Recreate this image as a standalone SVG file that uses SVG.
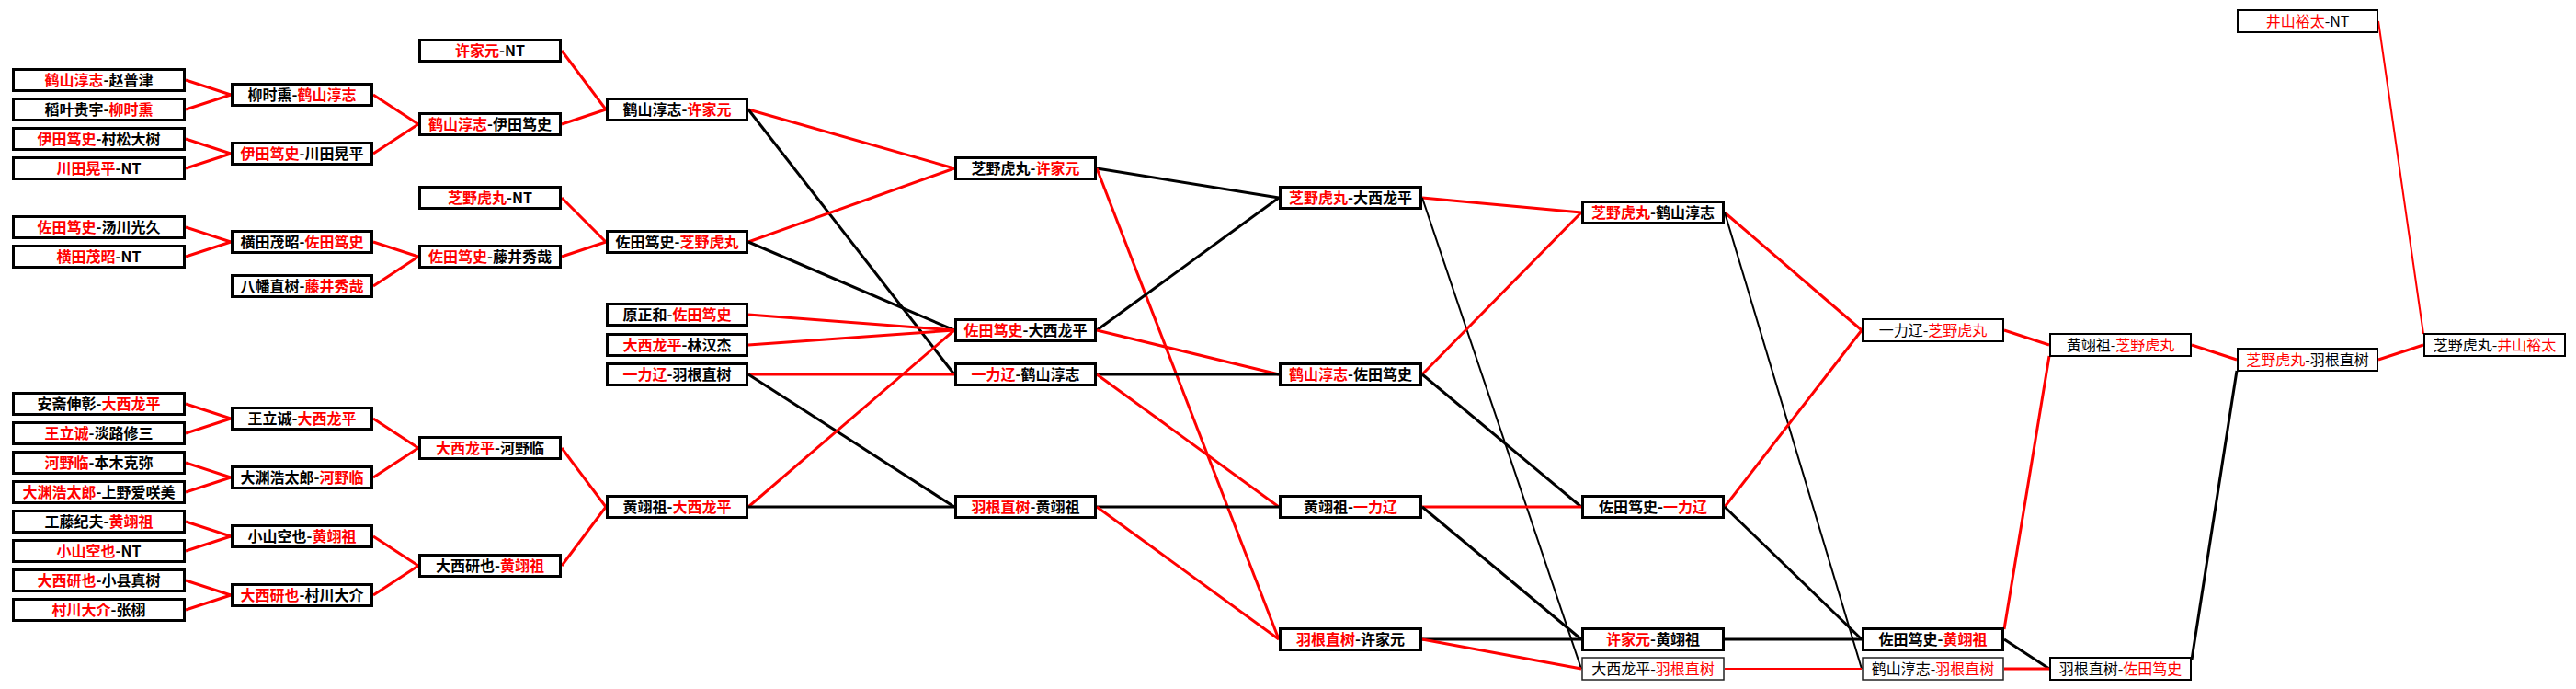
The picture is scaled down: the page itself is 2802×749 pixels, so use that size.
<svg xmlns="http://www.w3.org/2000/svg" width="2802" height="749" viewBox="0 0 2802 749">
<style>
.n rect{fill:#fff;stroke:#000;stroke-width:3}
.n text{font-weight:bold}
.n.t rect{stroke-width:2}
.n.t text{font-weight:normal}
.n.h rect{stroke-width:1.5;stroke:#222}
.n.h text{font-weight:normal}
text{font-family:"Noto Sans CJK SC","Noto Sans CJK JP",sans-serif;font-size:16px;text-anchor:middle;fill:#000}
.r{fill:#f00}
#connectors line{stroke-width:3;fill:none}
#connectors .red{stroke:#f00}
#connectors .blk{stroke:#000}
#connectors .thin{stroke-width:2}
</style>
<rect x="0" y="0" width="2802" height="749" fill="#fff"/>
<g id="connectors">
<line class="red" x1="202" y1="87" x2="251" y2="103"/>
<line class="red" x1="202" y1="119" x2="251" y2="103"/>
<line class="red" x1="202" y1="151" x2="251" y2="167"/>
<line class="red" x1="202" y1="183" x2="251" y2="167"/>
<line class="red" x1="202" y1="247" x2="251" y2="263"/>
<line class="red" x1="202" y1="279" x2="251" y2="263"/>
<line class="red" x1="202" y1="439" x2="251" y2="455"/>
<line class="red" x1="202" y1="471" x2="251" y2="455"/>
<line class="red" x1="202" y1="503" x2="251" y2="519"/>
<line class="red" x1="202" y1="535" x2="251" y2="519"/>
<line class="red" x1="202" y1="567" x2="251" y2="583"/>
<line class="red" x1="202" y1="599" x2="251" y2="583"/>
<line class="red" x1="202" y1="631" x2="251" y2="647"/>
<line class="red" x1="202" y1="663" x2="251" y2="647"/>
<line class="red" x1="406" y1="103" x2="455" y2="135"/>
<line class="red" x1="406" y1="167" x2="455" y2="135"/>
<line class="red" x1="406" y1="263" x2="455" y2="279"/>
<line class="red" x1="406" y1="311" x2="455" y2="279"/>
<line class="red" x1="406" y1="455" x2="455" y2="487"/>
<line class="red" x1="406" y1="519" x2="455" y2="487"/>
<line class="red" x1="406" y1="583" x2="455" y2="615"/>
<line class="red" x1="406" y1="647" x2="455" y2="615"/>
<line class="red" x1="611" y1="55" x2="659" y2="119"/>
<line class="red" x1="611" y1="135" x2="659" y2="119"/>
<line class="red" x1="611" y1="215" x2="659" y2="263"/>
<line class="red" x1="611" y1="279" x2="659" y2="263"/>
<line class="red" x1="611" y1="487" x2="659" y2="551"/>
<line class="red" x1="611" y1="615" x2="659" y2="551"/>
<line class="red" x1="814" y1="119" x2="1038" y2="183"/>
<line class="blk" x1="814" y1="119" x2="1038" y2="407"/>
<line class="red" x1="814" y1="263" x2="1038" y2="183"/>
<line class="blk" x1="814" y1="263" x2="1038" y2="359"/>
<line class="red" x1="814" y1="342" x2="1038" y2="359"/>
<line class="red" x1="814" y1="375" x2="1038" y2="359"/>
<line class="red" x1="814" y1="407" x2="1038" y2="407"/>
<line class="blk" x1="814" y1="407" x2="1038" y2="551"/>
<line class="red" x1="814" y1="551" x2="1038" y2="359"/>
<line class="blk" x1="814" y1="551" x2="1038" y2="551"/>
<line class="blk" x1="1193" y1="183" x2="1391" y2="215"/>
<line class="red" x1="1193" y1="183" x2="1391" y2="695"/>
<line class="blk" x1="1193" y1="359" x2="1391" y2="215"/>
<line class="red" x1="1193" y1="359" x2="1391" y2="407"/>
<line class="blk" x1="1193" y1="407" x2="1391" y2="407"/>
<line class="red" x1="1193" y1="407" x2="1391" y2="551"/>
<line class="blk" x1="1193" y1="551" x2="1391" y2="551"/>
<line class="red" x1="1193" y1="551" x2="1391" y2="695"/>
<line class="red" x1="1547" y1="215" x2="1720" y2="231"/>
<line class="blk thin" x1="1547" y1="215" x2="1720" y2="727"/>
<line class="red" x1="1547" y1="407" x2="1720" y2="231"/>
<line class="blk" x1="1547" y1="407" x2="1720" y2="551"/>
<line class="red" x1="1547" y1="551" x2="1720" y2="551"/>
<line class="blk" x1="1547" y1="551" x2="1720" y2="695"/>
<line class="blk" x1="1547" y1="695" x2="1720" y2="695"/>
<line class="red" x1="1547" y1="695" x2="1720" y2="727"/>
<line class="red" x1="1876" y1="231" x2="2025" y2="359"/>
<line class="blk thin" x1="1876" y1="231" x2="2025" y2="727"/>
<line class="red" x1="1876" y1="551" x2="2025" y2="359"/>
<line class="blk" x1="1876" y1="551" x2="2025" y2="695"/>
<line class="blk" x1="1876" y1="695" x2="2025" y2="695"/>
<line class="red thin" x1="1876" y1="727" x2="2025" y2="727"/>
<line class="red" x1="2180" y1="359" x2="2229" y2="375"/>
<line class="red" x1="2180" y1="684" x2="2229" y2="387"/>
<line class="blk" x1="2180" y1="695" x2="2229" y2="727"/>
<line class="red" x1="2180" y1="727" x2="2229" y2="727"/>
<line class="red" x1="2384" y1="375" x2="2433" y2="391"/>
<line class="blk" x1="2384" y1="717" x2="2433" y2="403"/>
<line class="red" x1="2587" y1="391" x2="2636" y2="375"/>
<line class="red thin" x1="2587" y1="23" x2="2636" y2="363"/>
</g>
<g id="n1_1" class="n"><rect x="14.5" y="75.5" width="186" height="23"/><text x="107.5" y="93"><tspan class="r">鹤山淳志</tspan>-赵普津</text></g>
<g id="n1_2" class="n"><rect x="14.5" y="107.5" width="186" height="23"/><text x="107.5" y="125">稻叶贵宇-<tspan class="r">柳时熏</tspan></text></g>
<g id="n1_3" class="n"><rect x="14.5" y="139.5" width="186" height="23"/><text x="107.5" y="157"><tspan class="r">伊田笃史</tspan>-村松大树</text></g>
<g id="n1_4" class="n"><rect x="14.5" y="171.5" width="186" height="23"/><text x="107.5" y="189"><tspan class="r">川田晃平</tspan>-NT</text></g>
<g id="n1_5" class="n"><rect x="14.5" y="235.5" width="186" height="23"/><text x="107.5" y="253"><tspan class="r">佐田笃史</tspan>-汤川光久</text></g>
<g id="n1_6" class="n"><rect x="14.5" y="267.5" width="186" height="23"/><text x="107.5" y="285"><tspan class="r">横田茂昭</tspan>-NT</text></g>
<g id="n1_7" class="n"><rect x="14.5" y="427.5" width="186" height="23"/><text x="107.5" y="445">安斋伸彰-<tspan class="r">大西龙平</tspan></text></g>
<g id="n1_8" class="n"><rect x="14.5" y="459.5" width="186" height="23"/><text x="107.5" y="477"><tspan class="r">王立诚</tspan>-淡路修三</text></g>
<g id="n1_9" class="n"><rect x="14.5" y="491.5" width="186" height="23"/><text x="107.5" y="509"><tspan class="r">河野临</tspan>-本木克弥</text></g>
<g id="n1_10" class="n"><rect x="14.5" y="523.5" width="186" height="23"/><text x="107.5" y="541"><tspan class="r">大渊浩太郎</tspan>-上野爱咲美</text></g>
<g id="n1_11" class="n"><rect x="14.5" y="555.5" width="186" height="23"/><text x="107.5" y="573">工藤纪夫-<tspan class="r">黄翊祖</tspan></text></g>
<g id="n1_12" class="n"><rect x="14.5" y="587.5" width="186" height="23"/><text x="107.5" y="605"><tspan class="r">小山空也</tspan>-NT</text></g>
<g id="n1_13" class="n"><rect x="14.5" y="619.5" width="186" height="23"/><text x="107.5" y="637"><tspan class="r">大西研也</tspan>-小县真树</text></g>
<g id="n1_14" class="n"><rect x="14.5" y="651.5" width="186" height="23"/><text x="107.5" y="669"><tspan class="r">村川大介</tspan>-张栩</text></g>
<g id="n2_1" class="n"><rect x="252.5" y="91.5" width="152" height="23"/><text x="328.5" y="109">柳时熏-<tspan class="r">鹤山淳志</tspan></text></g>
<g id="n2_2" class="n"><rect x="252.5" y="155.5" width="152" height="23"/><text x="328.5" y="173"><tspan class="r">伊田笃史</tspan>-川田晃平</text></g>
<g id="n2_3" class="n"><rect x="252.5" y="251.5" width="152" height="23"/><text x="328.5" y="269">横田茂昭-<tspan class="r">佐田笃史</tspan></text></g>
<g id="n2_4" class="n"><rect x="252.5" y="299.5" width="152" height="23"/><text x="328.5" y="317">八幡直树-<tspan class="r">藤井秀哉</tspan></text></g>
<g id="n2_5" class="n"><rect x="252.5" y="443.5" width="152" height="23"/><text x="328.5" y="461">王立诚-<tspan class="r">大西龙平</tspan></text></g>
<g id="n2_6" class="n"><rect x="252.5" y="507.5" width="152" height="23"/><text x="328.5" y="525">大渊浩太郎-<tspan class="r">河野临</tspan></text></g>
<g id="n2_7" class="n"><rect x="252.5" y="571.5" width="152" height="23"/><text x="328.5" y="589">小山空也-<tspan class="r">黄翊祖</tspan></text></g>
<g id="n2_8" class="n"><rect x="252.5" y="635.5" width="152" height="23"/><text x="328.5" y="653"><tspan class="r">大西研也</tspan>-村川大介</text></g>
<g id="n3_1" class="n"><rect x="456.5" y="43.5" width="153" height="23"/><text x="533" y="61"><tspan class="r">许家元</tspan>-NT</text></g>
<g id="n3_2" class="n"><rect x="456.5" y="123.5" width="153" height="23"/><text x="533" y="141"><tspan class="r">鹤山淳志</tspan>-伊田笃史</text></g>
<g id="n3_3" class="n"><rect x="456.5" y="203.5" width="153" height="23"/><text x="533" y="221"><tspan class="r">芝野虎丸</tspan>-NT</text></g>
<g id="n3_4" class="n"><rect x="456.5" y="267.5" width="153" height="23"/><text x="533" y="285"><tspan class="r">佐田笃史</tspan>-藤井秀哉</text></g>
<g id="n3_5" class="n"><rect x="456.5" y="475.5" width="153" height="23"/><text x="533" y="493"><tspan class="r">大西龙平</tspan>-河野临</text></g>
<g id="n3_6" class="n"><rect x="456.5" y="603.5" width="153" height="23"/><text x="533" y="621">大西研也-<tspan class="r">黄翊祖</tspan></text></g>
<g id="n4_1" class="n"><rect x="660.5" y="107.5" width="152" height="23"/><text x="736.5" y="125">鹤山淳志-<tspan class="r">许家元</tspan></text></g>
<g id="n4_2" class="n"><rect x="660.5" y="251.5" width="152" height="23"/><text x="736.5" y="269">佐田笃史-<tspan class="r">芝野虎丸</tspan></text></g>
<g id="n4_3" class="n"><rect x="660.5" y="330.5" width="152" height="23"/><text x="736.5" y="348">原正和-<tspan class="r">佐田笃史</tspan></text></g>
<g id="n4_4" class="n"><rect x="660.5" y="363.5" width="152" height="23"/><text x="736.5" y="381"><tspan class="r">大西龙平</tspan>-林汉杰</text></g>
<g id="n4_5" class="n"><rect x="660.5" y="395.5" width="152" height="23"/><text x="736.5" y="413"><tspan class="r">一力辽</tspan>-羽根直树</text></g>
<g id="n4_6" class="n"><rect x="660.5" y="539.5" width="152" height="23"/><text x="736.5" y="557">黄翊祖-<tspan class="r">大西龙平</tspan></text></g>
<g id="n5_1" class="n"><rect x="1039.5" y="171.5" width="152" height="23"/><text x="1115.5" y="189">芝野虎丸-<tspan class="r">许家元</tspan></text></g>
<g id="n5_2" class="n"><rect x="1039.5" y="347.5" width="152" height="23"/><text x="1115.5" y="365"><tspan class="r">佐田笃史</tspan>-大西龙平</text></g>
<g id="n5_3" class="n"><rect x="1039.5" y="395.5" width="152" height="23"/><text x="1115.5" y="413"><tspan class="r">一力辽</tspan>-鹤山淳志</text></g>
<g id="n5_4" class="n"><rect x="1039.5" y="539.5" width="152" height="23"/><text x="1115.5" y="557"><tspan class="r">羽根直树</tspan>-黄翊祖</text></g>
<g id="n6_1" class="n"><rect x="1392.5" y="203.5" width="153" height="23"/><text x="1469" y="221"><tspan class="r">芝野虎丸</tspan>-大西龙平</text></g>
<g id="n6_2" class="n"><rect x="1392.5" y="395.5" width="153" height="23"/><text x="1469" y="413"><tspan class="r">鹤山淳志</tspan>-佐田笃史</text></g>
<g id="n6_3" class="n"><rect x="1392.5" y="539.5" width="153" height="23"/><text x="1469" y="557">黄翊祖-<tspan class="r">一力辽</tspan></text></g>
<g id="n6_4" class="n"><rect x="1392.5" y="683.5" width="153" height="23"/><text x="1469" y="701"><tspan class="r">羽根直树</tspan>-许家元</text></g>
<g id="n7_1" class="n"><rect x="1721.5" y="219.5" width="153" height="23"/><text x="1798" y="237"><tspan class="r">芝野虎丸</tspan>-鹤山淳志</text></g>
<g id="n7_2" class="n"><rect x="1721.5" y="539.5" width="153" height="23"/><text x="1798" y="557">佐田笃史-<tspan class="r">一力辽</tspan></text></g>
<g id="n7_3" class="n"><rect x="1721.5" y="683.5" width="153" height="23"/><text x="1798" y="701"><tspan class="r">许家元</tspan>-黄翊祖</text></g>
<g id="n7_4" class="n h"><rect x="1721" y="715" width="154" height="24"/><text x="1798" y="733">大西龙平-<tspan class="r">羽根直树</tspan></text></g>
<g id="n8_1" class="n t"><rect x="2026" y="347" width="153" height="24"/><text x="2102.5" y="365">一力辽-<tspan class="r">芝野虎丸</tspan></text></g>
<g id="n8_2" class="n"><rect x="2026.5" y="683.5" width="152" height="23"/><text x="2102.5" y="701">佐田笃史-<tspan class="r">黄翊祖</tspan></text></g>
<g id="n8_3" class="n h"><rect x="2026" y="715" width="153" height="24"/><text x="2102.5" y="733">鹤山淳志-<tspan class="r">羽根直树</tspan></text></g>
<g id="n9_1" class="n t"><rect x="2230" y="363" width="153" height="24"/><text x="2306.5" y="381">黄翊祖-<tspan class="r">芝野虎丸</tspan></text></g>
<g id="n9_2" class="n t"><rect x="2230" y="715" width="153" height="24"/><text x="2306.5" y="733">羽根直树-<tspan class="r">佐田笃史</tspan></text></g>
<g id="n10_1" class="n t"><rect x="2434" y="11" width="152" height="24"/><text x="2510" y="29"><tspan class="r">井山裕太</tspan>-NT</text></g>
<g id="n10_2" class="n t"><rect x="2434" y="379" width="152" height="24"/><text x="2510" y="397"><tspan class="r">芝野虎丸</tspan>-羽根直树</text></g>
<g id="n11_1" class="n t"><rect x="2637" y="363" width="153" height="24"/><text x="2713.5" y="381">芝野虎丸-<tspan class="r">井山裕太</tspan></text></g>
</svg>
